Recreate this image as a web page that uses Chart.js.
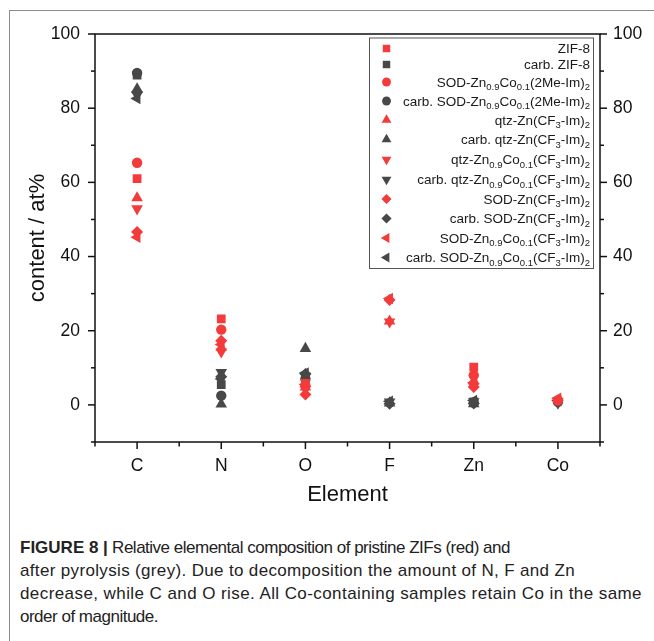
<!DOCTYPE html>
<html>
<head>
<meta charset="utf-8">
<script src="https://cdn.jsdelivr.net/npm/chart.js@4.4.1/dist/chart.umd.min.js"></script>
<style>
  html, body { margin: 0; padding: 0; background: #fff; }
  body { width: 654px; height: 641px; position: relative; overflow: hidden;
         font-family: "Liberation Sans", Arial, sans-serif; }
  #frame { position: absolute; left: 9px; top: 10px; width: 700px; height: 700px;
           border-left: 1px solid #8c8c8c; border-top: 1px solid #8c8c8c; }
  #wrap { position: absolute; left: 0; top: 0; width: 654px; height: 520px; }
  #caption { position: absolute; left: 20px; top: 536px; font-size: 17px; line-height: 23px;
             color: #222; }
  #caption .ln { white-space: nowrap; }
  #caption .ln span { display: inline-block; white-space: pre; }
  #caption .bold { font-weight: bold; }
</style>
</head>
<body>
<div id="frame"></div>
<div id="wrap"><canvas id="chart" width="654" height="520"></canvas></div>
<div id="caption">
  <div class="ln"><span class="bold">FIGURE 8 |</span><span data-end="490"> Relative elemental composition of pristine ZIFs (red) and</span></div>
  <div class="ln"><span data-end="555">after pyrolysis (grey). Due to decomposition the amount of N, F and Zn</span></div>
  <div class="ln"><span data-end="622">decrease, while C and O rise. All Co-containing samples retain Co in the same</span></div>
  <div class="ln"><span data-end="138">order of magnitude.</span></div>
</div>
<script>
// Elements on the x axis
const elements = ['C', 'N', 'O', 'F', 'Zn', 'Co'];
const yTicks = [0, 20, 40, 60, 80, 100];

// Sample names (_{..} marks a subscript)
const sampleNames = [
  'ZIF-8',
  'carb. ZIF-8',
  'SOD-Zn_{0.9}Co_{0.1}(2Me-Im)_{2}',
  'carb. SOD-Zn_{0.9}Co_{0.1}(2Me-Im)_{2}',
  'qtz-Zn(CF_{3}-Im)_{2}',
  'carb. qtz-Zn(CF_{3}-Im)_{2}',
  'qtz-Zn_{0.9}Co_{0.1}(CF_{3}-Im)_{2}',
  'carb. qtz-Zn_{0.9}Co_{0.1}(CF_{3}-Im)_{2}',
  'SOD-Zn(CF_{3}-Im)_{2}',
  'carb. SOD-Zn(CF_{3}-Im)_{2}',
  'SOD-Zn_{0.9}Co_{0.1}(CF_{3}-Im)_{2}',
  'carb. SOD-Zn_{0.9}Co_{0.1}(CF_{3}-Im)_{2}'
];

// Content in at% for C, N, O, F, Zn, Co (null = element not present)
const zif8           = [61.0, 23.2,  5.8, null, 10.2, null];
const carbZif8       = [88.9,  5.5,  7.2, null,  0.8, null];
const sodCo2MeIm     = [65.3, 20.3,  5.2, null,  8.0,  1.2];
const carbSodCo2MeIm = [89.5,  2.5,  7.0, null,  0.6,  0.8];
const qtzCF3         = [55.8, 15.5,  4.8, 22.6,  6.5, null];
const carbQtzCF3     = [85.2,  0.2, 15.2,  0.5,  0.3, null];
const qtzCoCF3       = [52.9, 14.3,  4.2, 22.4,  5.0,  1.0];
const carbQtzCoCF3   = [83.5,  8.8,  7.8,  0.8,  0.9,  0.5];
const sodCF3         = [46.6, 17.3,  2.8, 28.3,  4.8, null];
const carbSodCF3     = [84.3,  7.6,  8.3,  0.3,  0.4, null];
const sodCoCF3       = [45.2, 16.3,  5.5, 28.7,  6.0,  1.8];
const carbSodCoCF3   = [82.6,  7.0,  8.6,  1.0,  1.2,  1.2];

const seriesValues = [zif8, carbZif8, sodCo2MeIm, carbSodCo2MeIm, qtzCF3, carbQtzCF3,
                      qtzCoCF3, carbQtzCoCF3, sodCF3, carbSodCF3, sodCoCF3, carbSodCoCF3];

const RED = '#f33b3b';
const GREY = '#484848';
const markers = [
  { style: 'rect', rotation: 0, radius: 6.2 },
  { style: 'circle', rotation: 0, radius: 5.2 },
  { style: 'triangle', rotation: 0, radius: 6.7 },
  { style: 'triangle', rotation: 180, radius: 6.7 },
  { style: 'rectRot', rotation: 0, radius: 6 },
  { style: 'triangle', rotation: 270, radius: 6.7 }
];

const datasets = seriesValues.map((vals, i) => {
  const m = markers[Math.floor(i / 2)];
  const color = i % 2 === 0 ? RED : GREY;
  return {
    label: sampleNames[i],
    data: vals,
    showLine: false,
    pointStyle: m.style,
    pointRotation: m.rotation,
    pointRadius: m.radius,
    pointBackgroundColor: color,
    pointBorderColor: color,
    pointBorderWidth: 0,
    backgroundColor: color,
    borderColor: color
  };
});

// Axis box, tick marks (major + minor)
const frameTicks = {
  id: 'frameTicks',
  afterDatasetsDraw(chart) {
    const { ctx, chartArea: a, scales } = chart;
    ctx.save();
    ctx.strokeStyle = '#111';
    ctx.lineWidth = 1.5;
    ctx.lineCap = 'butt';
    ctx.strokeRect(a.left, a.top, a.right - a.left, a.bottom - a.top);
    const seg = (x1, y1, x2, y2) => { ctx.beginPath(); ctx.moveTo(x1, y1); ctx.lineTo(x2, y2); ctx.stroke(); };
    const y = scales.y;
    for (let v = y.min; v <= y.max; v += 10) {
      const py = y.getPixelForValue(v);
      const len = v % 20 === 0 ? 7 : 4;
      seg(a.left - len, py, a.left, py);
      seg(a.right, py, a.right + len, py);
    }
    const x = scales.x;
    const n = elements.length;
    for (let i = 0; i < n; i++) {
      const px = x.getPixelForTick(i);
      seg(px, a.bottom, px, a.bottom + 7);
    }
    const half = (x.getPixelForTick(1) - x.getPixelForTick(0)) / 2;
    for (let i = 0; i <= n; i++) {
      const px = x.getPixelForTick(0) - half + i * half * 2;
      seg(px, a.bottom, px, a.bottom + 4.5);
    }
    ctx.restore();
  }
};

// Legend with subscripted sample names
function parseLabel(s) {
  const parts = [];
  const re = /_\{([^}]*)\}/g;
  let last = 0, m;
  while ((m = re.exec(s)) !== null) {
    if (m.index > last) parts.push({ t: s.slice(last, m.index), sub: false });
    parts.push({ t: m[1], sub: true });
    last = re.lastIndex;
  }
  if (last < s.length) parts.push({ t: s.slice(last), sub: false });
  return parts;
}

const subLegend = {
  id: 'subLegend',
  afterDraw(chart) {
    const { ctx } = chart;
    const box = { left: 369, top: 37.5, right: 593, bottom: 268 };
    const rows = [48.5, 64.5, 82, 101, 120, 139.5, 159.5, 179.5, 199, 218.5, 238, 257.5];
    const markerX = 386.5;
    const textRight = 590;
    const mainFont = '13.5px "Liberation Sans", Arial, sans-serif';
    const subFont = '9.5px "Liberation Sans", Arial, sans-serif';
    ctx.save();
    ctx.fillStyle = '#fff';
    ctx.fillRect(box.left, box.top, box.right - box.left, box.bottom - box.top);
    ctx.strokeStyle = '#555';
    ctx.lineWidth = 1;
    ctx.strokeRect(box.left + 0.5, box.top + 0.5, box.right - box.left, box.bottom - box.top);
    chart.data.datasets.forEach((ds, i) => {
      const cy = rows[i];
      ctx.fillStyle = ds.pointBackgroundColor;
      ctx.strokeStyle = ds.pointBackgroundColor;
      Chart.helpers.drawPoint(ctx, {
        pointStyle: ds.pointStyle, rotation: ds.pointRotation,
        radius: ds.pointRadius * 0.85, borderWidth: 0
      }, markerX, cy);
      const parts = parseLabel(ds.label);
      let w = 0;
      parts.forEach(p => { ctx.font = p.sub ? subFont : mainFont; p.w = ctx.measureText(p.t).width; w += p.w; });
      let x = textRight - w;
      ctx.fillStyle = '#1a1a1a';
      ctx.textBaseline = 'alphabetic';
      ctx.textAlign = 'left';
      parts.forEach(p => {
        ctx.font = p.sub ? subFont : mainFont;
        ctx.fillText(p.t, x, cy + (p.sub ? 8.3 : 4.8));
        x += p.w;
      });
    });
    ctx.restore();
  }
};

const tickFont = { family: '"Liberation Sans", Arial, sans-serif', size: 17.5 };
const titleFont = { family: '"Liberation Sans", Arial, sans-serif', size: 22 };

new Chart(document.getElementById('chart'), {
  type: 'line',
  data: { labels: elements, datasets },
  options: {
    responsive: false,
    animation: false,
    events: [],
    layout: { padding: { top: 34, left: 0, right: 0, bottom: 0 } },
    plugins: { legend: { display: false }, tooltip: { enabled: false } },
    scales: {
      x: {
        type: 'category',
        offset: true,
        grid: { display: false, drawTicks: false },
        border: { display: false },
        ticks: { font: tickFont, color: '#111', padding: 14, maxRotation: 0 },
        title: { display: true, text: 'Element', font: titleFont, color: '#111', padding: { top: 0, bottom: 11.8 } },
        afterFit(s) { s.height = 78; }
      },
      y: {
        position: 'left',
        min: -10, max: 100,
        afterBuildTicks(s) { s.ticks = yTicks.map(v => ({ value: v })); },
        grid: { display: false, drawTicks: false },
        border: { display: false },
        ticks: { font: tickFont, color: '#111', padding: 15 },
        title: { display: true, text: 'content / at%', font: titleFont, color: '#111', padding: { top: 24.8, bottom: 0 } },
        afterFit(s) { s.width = 95; }
      },
      y1: {
        position: 'right',
        min: -10, max: 100,
        afterBuildTicks(s) { s.ticks = yTicks.map(v => ({ value: v })); },
        grid: { display: false, drawTicks: false },
        border: { display: false },
        ticks: { font: tickFont, color: '#111', padding: 13 },
        afterFit(s) { s.width = 54; }
      }
    }
  },
  plugins: [frameTicks, subLegend]
});

// Caption lines: adjust spacing of each run so that the line ends at its set width
function fitCaption() {
  const capLeft = document.getElementById('caption').getBoundingClientRect().left;
  document.querySelectorAll('#caption span[data-end]').forEach(span => {
    span.style.letterSpacing = '0px';
    const r = span.getBoundingClientRect();
    const target = parseFloat(span.dataset.end) - (r.left - capLeft);
    const chars = span.textContent.length;
    span.style.letterSpacing = ((target - r.width) / chars).toFixed(3) + 'px';
  });
}
fitCaption();
if (document.fonts && document.fonts.ready) document.fonts.ready.then(fitCaption);
</script>
</body>
</html>
